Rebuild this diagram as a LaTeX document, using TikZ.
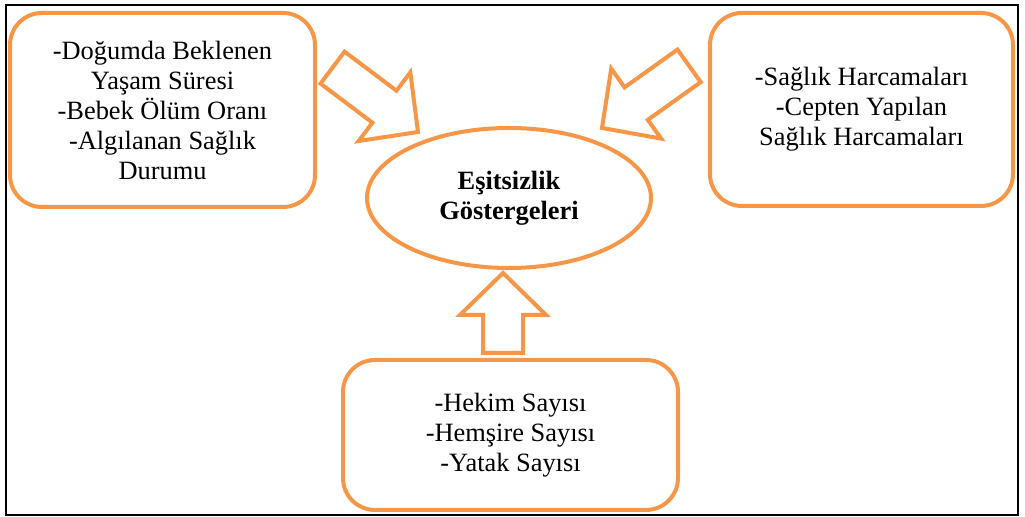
\documentclass[tikz,border=0pt]{standalone}
\usepackage{fontspec}
\setmainfont{Liberation Serif}
\usetikzlibrary{shapes.geometric}
\definecolor{boxorange}{HTML}{F79646}

\begin{document}
\begin{tikzpicture}[
  x=0.5pt, y=-0.5pt,
  font=\fontsize{13.2}{15}\selectfont,
  frame/.style={draw=black, line width=1.1pt},
  box/.style={draw=boxorange, line width=2pt, rounded corners=16pt,
    align=center, inner sep=0pt},
  core/.style={ellipse, draw=boxorange, line width=2pt, align=center,
    inner sep=0pt, minimum width=142pt, minimum height=70pt,
    font=\fontsize{13.2}{15}\selectfont\bfseries},
  fatarrow/.style={draw=boxorange, line width=2pt, fill=white, line join=miter}
]
\useasboundingbox (0,0) rectangle (1025,517);

\draw[frame] (6,5) rectangle (1018,515);

\node[box, minimum width=152.5pt, minimum height=97pt] (outcome) at (162.5,110)
  {-Doğumda Beklenen\\Yaşam Süresi\\-Bebek Ölüm Oranı\\-Algılanan Sağlık\\Durumu};
\node[box, minimum width=151.5pt, minimum height=96.5pt] (spending) at (861.5,109.5)
  {-Sağlık Harcamaları\\-Cepten Yapılan\\Sağlık Harcamaları};
\node[box, minimum width=167.5pt, minimum height=75pt] (resource) at (510.5,435)
  {-Hekim Sayısı\\-Hemşire Sayısı\\-Yatak Sayısı};

\node[core] (index) at (509,198) {Eşitsizlik\\Göstergeleri};

% block arrows: tip x / tip y / angle / length
\foreach \tx/\ty/\ang/\len in {418/132/-37/107, 602/128/-144.5/107, 503/273/90/80}
  \draw[fatarrow, shift={(\tx,\ty)}, rotate=\ang]
    (0,0) -- (-42,-43) -- (-42,-20) -- (-\len,-20) -- (-\len,20)
    -- (-42,20) -- (-42,43) -- cycle;

\end{tikzpicture}
\end{document}
